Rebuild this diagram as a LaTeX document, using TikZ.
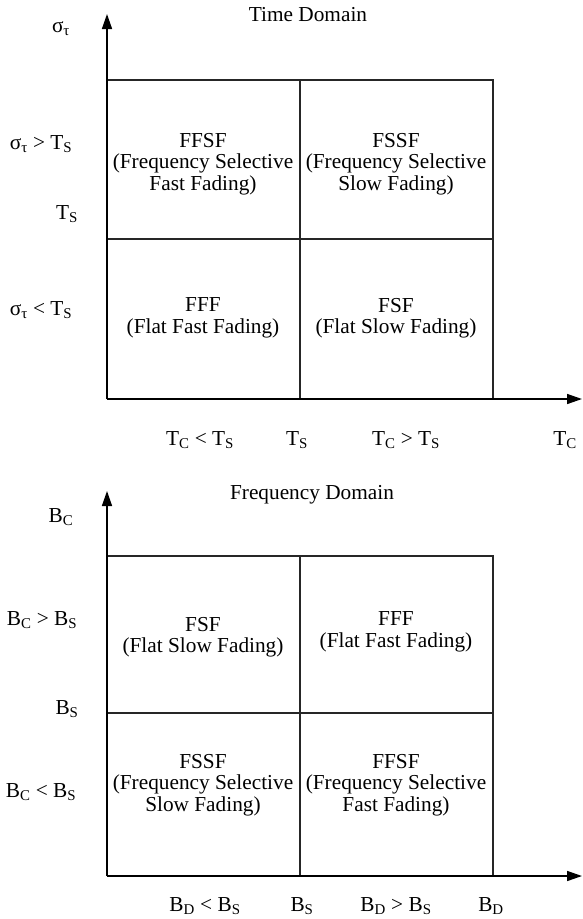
\documentclass[tikz,border=0pt]{standalone}
\usepackage{fontspec}
\setmainfont{Liberation Serif}
\usetikzlibrary{arrows.meta}
\newcommand{\sub}[1]{\textsubscript{#1}}
\tikzset{
  axisline/.style={-{Triangle[length=15pt,width=10pt]},line width=1.5pt,black},
  gridline/.style={line width=1.3pt,black!85},
  celltxt/.style={align=center,font=\fontsize{21.3}{21.5}\selectfont,inner sep=0pt},
  axlbl/.style={font=\fontsize{21.3}{21.5}\selectfont,inner sep=0pt},
  ttl/.style={font=\fontsize{21.3}{21.5}\selectfont,inner sep=0pt},
}
\begin{document}
\begin{tikzpicture}[x=1pt,y=-1pt]
  \useasboundingbox (0,0) rectangle (582,919);
  % time domain
  \coordinate (tO) at (107,399);
  \coordinate (tYt) at (107,14);
  \coordinate (tXt) at (582,399);
  \coordinate (tTL) at (107,80);
  \coordinate (tTR) at (493,80);
  \coordinate (tTM) at (300,80);
  \coordinate (tBR) at (493,399);
  \coordinate (tBM) at (300,399);
  \coordinate (tML) at (107,239);
  \coordinate (tMR) at (493,239);
  \draw[gridline] (tTL) -- (tTR) -- (tBR);
  \draw[gridline] (tTM) -- (tBM);
  \draw[gridline] (tML) -- (tMR);
  \draw[axisline] (tO) -- (tYt);
  \draw[axisline] (tO) -- (tXt);
  \node[ttl] (tTitle) at (308,15) {Time Domain};
  \node[axlbl] (tYlbl) at (61,29) {σ\sub{τ}};
  \node[axlbl] (tYhi) at (41,144) {σ\sub{τ} > T\sub{S}};
  \node[axlbl] (tYmid) at (67,214) {T\sub{S}};
  \node[axlbl] (tYlo) at (41,310) {σ\sub{τ} < T\sub{S}};
  \node[celltxt] (tFFSF) at (203,164) {FFSF\\(Frequency Selective\\Fast Fading)};
  \node[celltxt] (tFSSF) at (396,164) {FSSF\\(Frequency Selective\\Slow Fading)};
  \node[celltxt] (tFFF) at (203,318) {FFF\\(Flat Fast Fading)};
  \node[celltxt] (tFSF) at (396,318) {FSF\\(Flat Slow Fading)};
  \node[axlbl] (tXlo) at (200,440) {T\sub{C} < T\sub{S}};
  \node[axlbl] (tXmid) at (297,440) {T\sub{S}};
  \node[axlbl] (tXhi) at (406,440) {T\sub{C} > T\sub{S}};
  \node[axlbl] (tXlbl) at (565,440) {T\sub{C}};
  % frequency domain
  \coordinate (fO) at (107,876);
  \coordinate (fYt) at (107,491);
  \coordinate (fXt) at (582,876);
  \coordinate (fTL) at (107,556);
  \coordinate (fTR) at (493,556);
  \coordinate (fTM) at (300,556);
  \coordinate (fBR) at (493,876);
  \coordinate (fBM) at (300,876);
  \coordinate (fML) at (107,713);
  \coordinate (fMR) at (493,713);
  \draw[gridline] (fTL) -- (fTR) -- (fBR);
  \draw[gridline] (fTM) -- (fBM);
  \draw[gridline] (fML) -- (fMR);
  \draw[axisline] (fO) -- (fYt);
  \draw[axisline] (fO) -- (fXt);
  \node[ttl] (fTitle) at (312,495) {Frequency Domain};
  \node[axlbl] (fYlbl) at (61,517) {B\sub{C}};
  \node[axlbl] (fYhi) at (42,620) {B\sub{C} > B\sub{S}};
  \node[axlbl] (fYmid) at (67,709) {B\sub{S}};
  \node[axlbl] (fYlo) at (41,792) {B\sub{C} < B\sub{S}};
  \node[celltxt] (fFSF) at (203,637) {FSF\\(Flat Slow Fading)};
  \node[celltxt] (fFFF) at (396,632) {FFF\\(Flat Fast Fading)};
  \node[celltxt] (fFSSF) at (203,785) {FSSF\\(Frequency Selective\\Slow Fading)};
  \node[celltxt] (fFFSF) at (396,785) {FFSF\\(Frequency Selective\\Fast Fading)};
  \node[axlbl] (fXlo) at (205,906) {B\sub{D} < B\sub{S}};
  \node[axlbl] (fXmid) at (302,906) {B\sub{S}};
  \node[axlbl] (fXhi) at (396,906) {B\sub{D} > B\sub{S}};
  \node[axlbl] (fXlbl) at (491,906) {B\sub{D}};
\end{tikzpicture}
\end{document}
